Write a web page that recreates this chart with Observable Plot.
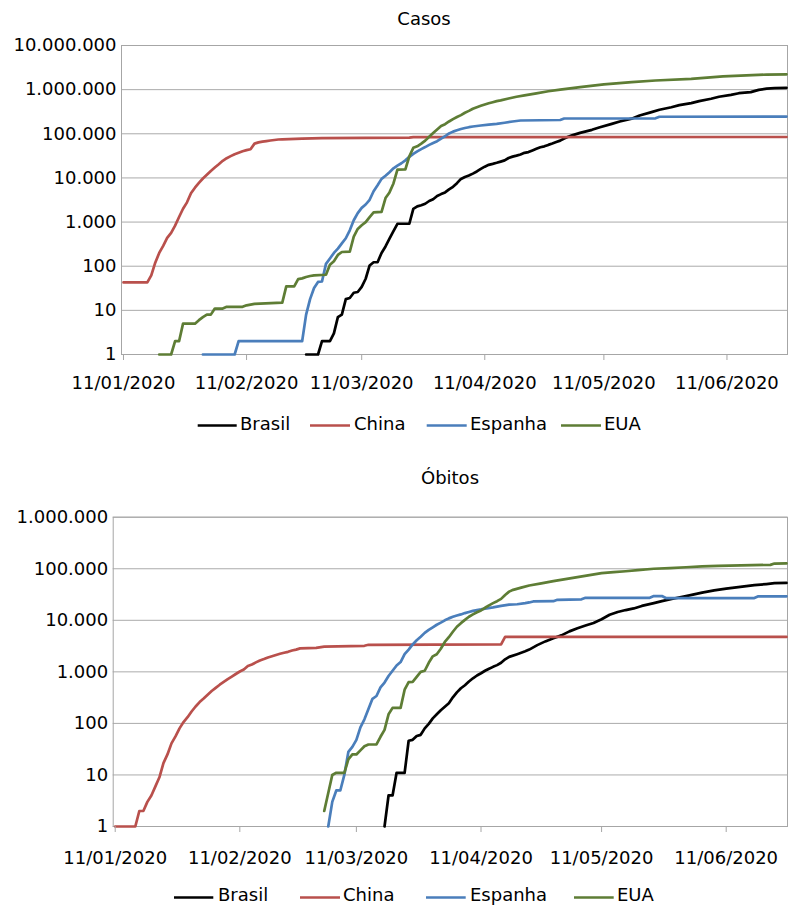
<!DOCTYPE html>
<html><head><meta charset="utf-8">
<script src="https://cdn.jsdelivr.net/npm/d3@7"></script>
<script src="https://cdn.jsdelivr.net/npm/@observablehq/plot@0.6"></script>
<style>
body{margin:0;background:#fff;}
#root{position:relative;width:797px;height:907px;overflow:hidden;font-family:"DejaVu Sans",sans-serif;}
#root > svg{position:absolute;left:0;}
</style></head><body><div id="root"></div>
<script>
const series = ["Brasil","China","Espanha","EUA"];
const colors = ["#000000","#b9504c","#4a7ebb","#5e7d35"];
const titles = ["Casos","Óbitos"];
const yTicksCasos = [1,10,100,1000,10000,100000,1000000,10000000];
const yTicksObitos = [1,10,100,1000,10000,100000,1000000];
const xTicks = ["2020-01-11","2020-02-11","2020-03-11","2020-04-11","2020-05-11","2020-06-11"];

const casosBrasil = [["2020-02-26",1],["2020-02-29",1],["2020-03-01",2],["2020-03-03",2],["2020-03-04",3],["2020-03-05",7],["2020-03-06",8],["2020-03-07",18],["2020-03-08",19],["2020-03-09",25],["2020-03-10",26],["2020-03-11",34],["2020-03-12",52],["2020-03-13",104],["2020-03-14",123],["2020-03-15",123],["2020-03-16",200],["2020-03-17",280],["2020-03-18",420],["2020-03-19",620],["2020-03-20",915],["2020-03-23",915],["2020-03-24",2000],["2020-03-25",2270],["2020-03-26",2400],["2020-03-27",2600],["2020-03-28",3000],["2020-03-29",3300],["2020-03-30",3900],["2020-03-31",4300],["2020-04-01",4700],["2020-04-02",5500],["2020-04-03",6300],["2020-04-04",7600],["2020-04-05",9500],["2020-04-06",10500],["2020-04-07",11300],["2020-04-08",12500],["2020-04-09",14000],["2020-04-10",16000],["2020-04-11",18000],["2020-04-12",19800],["2020-04-13",20800],["2020-04-14",22000],["2020-04-15",23400],["2020-04-16",25000],["2020-04-17",28300],["2020-04-18",30400],["2020-04-19",32000],["2020-04-20",34000],["2020-04-21",37000],["2020-04-22",38500],["2020-04-23",42000],["2020-04-24",45700],["2020-04-25",49500],["2020-04-26",52000],["2020-04-27",56000],["2020-04-28",60000],["2020-04-29",65000],["2020-04-30",70000],["2020-05-01",78000],["2020-05-02",86000],["2020-05-03",92000],["2020-05-05",105000],["2020-05-08",123000],["2020-05-10",140000],["2020-05-13",168000],["2020-05-15",190000],["2020-05-18",220000],["2020-05-20",260000],["2020-05-23",310000],["2020-05-25",350000],["2020-05-28",400000],["2020-05-30",445000],["2020-06-02",494000],["2020-06-04",550000],["2020-06-07",621000],["2020-06-09",690000],["2020-06-12",764000],["2020-06-14",830000],["2020-06-17",877000],["2020-06-19",990000],["2020-06-21",1050000],["2020-06-23",1080000],["2020-06-26",1100000]];
const casosChina = [["2020-01-11",43],["2020-01-17",43],["2020-01-18",62],["2020-01-19",120],["2020-01-20",200],["2020-01-21",290],["2020-01-22",440],["2020-01-23",570],["2020-01-24",830],["2020-01-25",1300],["2020-01-26",2000],["2020-01-27",2800],["2020-01-28",4500],["2020-01-29",6000],["2020-01-30",7700],["2020-01-31",9700],["2020-02-01",11800],["2020-02-02",14400],["2020-02-03",17200],["2020-02-04",20400],["2020-02-05",24400],["2020-02-06",28000],["2020-02-07",31200],["2020-02-08",34500],["2020-02-09",37200],["2020-02-10",40200],["2020-02-11",42700],["2020-02-12",44600],["2020-02-13",59800],["2020-02-14",63800],["2020-02-15",66500],["2020-02-16",68500],["2020-02-17",70500],["2020-02-18",72400],["2020-02-19",74200],["2020-02-20",75000],["2020-02-25",77700],["2020-03-01",79800],["2020-03-23",81500],["2020-03-24",84000],["2020-06-26",84500]];
const casosEspanha = [["2020-01-31",1],["2020-02-08",1],["2020-02-09",2],["2020-02-25",2],["2020-02-26",8],["2020-02-27",18],["2020-02-28",32],["2020-02-29",44],["2020-03-01",45],["2020-03-02",113],["2020-03-03",150],["2020-03-04",200],["2020-03-05",250],["2020-03-06",330],["2020-03-07",430],["2020-03-08",650],["2020-03-09",1100],["2020-03-10",1600],["2020-03-11",2100],["2020-03-12",2500],["2020-03-13",3200],["2020-03-14",5000],["2020-03-15",6800],["2020-03-16",9500],["2020-03-17",11200],["2020-03-18",13500],["2020-03-19",16500],["2020-03-20",19000],["2020-03-21",21500],["2020-03-22",25000],["2020-03-23",30000],["2020-03-24",35000],["2020-03-25",40000],["2020-03-26",45000],["2020-03-27",50000],["2020-03-28",56000],["2020-03-29",62000],["2020-03-30",68000],["2020-03-31",78000],["2020-04-01",88000],["2020-04-02",102000],["2020-04-03",112000],["2020-04-04",120000],["2020-04-05",128000],["2020-04-06",135000],["2020-04-07",141000],["2020-04-08",146000],["2020-04-09",150000],["2020-04-10",154000],["2020-04-12",162000],["2020-04-14",168000],["2020-04-16",178000],["2020-04-18",190000],["2020-04-20",200000],["2020-04-30",205000],["2020-05-01",222000],["2020-05-24",224000],["2020-05-25",243000],["2020-06-26",245000]];
const casosEUA = [["2020-01-20",1],["2020-01-23",1],["2020-01-24",2],["2020-01-25",2],["2020-01-26",5],["2020-01-29",5],["2020-01-30",6],["2020-01-31",7],["2020-02-01",8],["2020-02-02",8],["2020-02-03",11],["2020-02-05",11],["2020-02-06",12],["2020-02-10",12],["2020-02-11",13],["2020-02-13",14],["2020-02-20",15],["2020-02-21",35],["2020-02-23",35],["2020-02-24",51],["2020-02-25",53],["2020-02-26",57],["2020-02-27",60],["2020-02-28",62],["2020-03-02",64],["2020-03-03",108],["2020-03-04",130],["2020-03-05",180],["2020-03-06",210],["2020-03-08",213],["2020-03-09",470],["2020-03-10",700],["2020-03-11",850],["2020-03-12",1000],["2020-03-13",1300],["2020-03-14",1650],["2020-03-16",1700],["2020-03-17",3500],["2020-03-18",4700],["2020-03-19",7500],["2020-03-20",15500],["2020-03-22",15600],["2020-03-23",31000],["2020-03-24",48000],["2020-03-25",52000],["2020-03-26",60000],["2020-03-27",70000],["2020-03-28",86000],["2020-03-29",104000],["2020-03-30",125000],["2020-03-31",150000],["2020-04-01",165000],["2020-04-02",190000],["2020-04-03",215000],["2020-04-04",240000],["2020-04-05",265000],["2020-04-06",300000],["2020-04-07",330000],["2020-04-08",370000],["2020-04-09",400000],["2020-04-10",430000],["2020-04-11",460000],["2020-04-12",490000],["2020-04-13",520000],["2020-04-14",550000],["2020-04-15",570000],["2020-04-17",630000],["2020-04-19",690000],["2020-04-21",740000],["2020-04-24",820000],["2020-04-27",920000],["2020-04-30",1000000],["2020-05-05",1140000],["2020-05-11",1310000],["2020-05-18",1480000],["2020-05-24",1610000],["2020-06-02",1760000],["2020-06-10",1990000],["2020-06-21",2200000],["2020-06-26",2220000]];

const obitosBrasil = [["2020-03-18",1],["2020-03-19",4],["2020-03-20",4],["2020-03-21",11],["2020-03-23",11],["2020-03-24",46],["2020-03-25",48],["2020-03-26",57],["2020-03-27",60],["2020-03-28",80],["2020-03-29",98],["2020-03-30",125],["2020-03-31",150],["2020-04-01",180],["2020-04-02",210],["2020-04-03",245],["2020-04-04",320],["2020-04-05",400],["2020-04-06",480],["2020-04-07",550],["2020-04-08",650],["2020-04-09",750],["2020-04-10",850],["2020-04-11",940],["2020-04-12",1050],["2020-04-13",1150],["2020-04-14",1250],["2020-04-15",1350],["2020-04-16",1500],["2020-04-17",1750],["2020-04-18",1950],["2020-04-20",2200],["2020-04-22",2500],["2020-04-23",2700],["2020-04-25",3300],["2020-04-27",3900],["2020-04-29",4500],["2020-05-01",5100],["2020-05-03",6100],["2020-05-05",7000],["2020-05-07",7900],["2020-05-09",8900],["2020-05-11",10500],["2020-05-13",12800],["2020-05-15",14500],["2020-05-17",15800],["2020-05-19",17000],["2020-05-21",19000],["2020-05-24",21500],["2020-05-26",23500],["2020-05-29",26500],["2020-06-01",29500],["2020-06-03",31800],["2020-06-05",34500],["2020-06-08",38000],["2020-06-11",41000],["2020-06-13",43000],["2020-06-16",46000],["2020-06-18",48000],["2020-06-21",50500],["2020-06-23",52500],["2020-06-26",53000]];
const obitosChina = [["2020-01-11",1],["2020-01-16",1],["2020-01-17",2],["2020-01-18",2],["2020-01-19",3],["2020-01-20",4],["2020-01-21",6],["2020-01-22",9],["2020-01-23",17],["2020-01-24",25],["2020-01-25",41],["2020-01-26",56],["2020-01-27",80],["2020-01-28",106],["2020-01-29",132],["2020-01-30",170],["2020-01-31",213],["2020-02-01",259],["2020-02-02",304],["2020-02-03",361],["2020-02-04",425],["2020-02-05",490],["2020-02-06",563],["2020-02-07",636],["2020-02-08",722],["2020-02-09",811],["2020-02-10",908],["2020-02-11",1016],["2020-02-12",1113],["2020-02-13",1300],["2020-02-14",1390],["2020-02-15",1524],["2020-02-16",1666],["2020-02-17",1772],["2020-02-18",1900],["2020-02-19",2006],["2020-02-20",2121],["2020-02-21",2239],["2020-02-22",2348],["2020-02-23",2445],["2020-02-24",2595],["2020-02-25",2700],["2020-02-26",2850],["2020-03-01",2920],["2020-03-03",3080],["2020-03-13",3200],["2020-03-14",3350],["2020-04-16",3400],["2020-04-17",4750],["2020-06-26",4750]];
const obitosEspanha = [["2020-03-04",1],["2020-03-05",3],["2020-03-06",5],["2020-03-07",5],["2020-03-08",10],["2020-03-09",28],["2020-03-10",35],["2020-03-11",48],["2020-03-12",84],["2020-03-13",120],["2020-03-14",190],["2020-03-15",300],["2020-03-16",340],["2020-03-17",500],["2020-03-18",620],["2020-03-19",830],["2020-03-20",1050],["2020-03-21",1330],["2020-03-22",1550],["2020-03-23",2200],["2020-03-24",2700],["2020-03-25",3400],["2020-03-26",4100],["2020-03-27",4800],["2020-03-28",5700],["2020-03-29",6500],["2020-03-30",7300],["2020-03-31",8200],["2020-04-01",9000],["2020-04-02",10000],["2020-04-03",10900],["2020-04-04",11700],["2020-04-05",12400],["2020-04-06",13000],["2020-04-07",13800],["2020-04-08",14500],["2020-04-09",15200],["2020-04-10",15800],["2020-04-11",16300],["2020-04-12",16900],["2020-04-14",17800],["2020-04-16",19000],["2020-04-18",20100],["2020-04-20",20500],["2020-04-22",21500],["2020-04-23",22200],["2020-04-24",23200],["2020-04-29",23500],["2020-04-30",25000],["2020-05-06",25500],["2020-05-07",27300],["2020-05-23",27300],["2020-05-24",29500],["2020-05-26",29500],["2020-05-27",27000],["2020-06-18",27000],["2020-06-19",29200],["2020-06-26",29200]];
const obitosEUA = [["2020-03-03",2],["2020-03-05",10],["2020-03-06",11],["2020-03-08",11],["2020-03-09",20],["2020-03-10",25],["2020-03-11",25],["2020-03-12",30],["2020-03-13",36],["2020-03-14",39],["2020-03-16",39],["2020-03-17",55],["2020-03-18",75],["2020-03-19",150],["2020-03-20",200],["2020-03-22",200],["2020-03-23",450],["2020-03-24",630],["2020-03-25",640],["2020-03-26",800],["2020-03-27",1000],["2020-03-28",1050],["2020-03-29",1500],["2020-03-30",2000],["2020-03-31",2200],["2020-04-01",2800],["2020-04-02",3800],["2020-04-03",4700],["2020-04-04",6000],["2020-04-05",7500],["2020-04-06",8800],["2020-04-07",10200],["2020-04-08",11700],["2020-04-09",13000],["2020-04-10",14300],["2020-04-11",15500],["2020-04-12",17500],["2020-04-13",19500],["2020-04-14",21500],["2020-04-15",23500],["2020-04-16",26000],["2020-04-17",31000],["2020-04-18",36000],["2020-04-19",39000],["2020-04-21",43000],["2020-04-23",47400],["2020-04-26",52000],["2020-04-29",57500],["2020-05-02",63000],["2020-05-05",68700],["2020-05-08",75000],["2020-05-11",82000],["2020-05-14",86000],["2020-05-17",89500],["2020-05-20",94000],["2020-05-24",100000],["2020-05-28",103000],["2020-06-01",107000],["2020-06-05",111000],["2020-06-09",114000],["2020-06-22",119000],["2020-06-23",126000],["2020-06-26",127000]];

const ptBR = d3.formatLocale({decimal: ",", thousands: ".", grouping: [3], currency: ["R$ ", ""]});
const yFmt = ptBR.format(",d");
const xFmt = d3.utcFormat("%d/%m/%Y");
const toDate = s => new Date(s + "T00:00:00Z");
const xDomain = [new Date("2020-01-10T12:00:00Z"), new Date("2020-06-26T06:00:00Z")];

function rows(arrs) {
  return series.flatMap((s, i) => arrs[i].map(([d, v]) => ({series: s, date: toDate(d), value: v})));
}

function chart({data, yTicks, top, height, marginTop, marginBottom, marginLeft, tickPadding}) {
  const svg = Plot.plot({
    width: 797, height, marginTop, marginBottom, marginLeft, marginRight: 10,
    style: {fontFamily: '"DejaVu Sans", sans-serif', fontSize: "18px", color: "#000", background: "transparent", overflow: "visible"},
    x: {type: "utc", domain: xDomain},
    y: {type: "log", domain: [yTicks[0], yTicks[yTicks.length - 1]]},
    color: {domain: series, range: colors},
    marks: [
      Plot.gridY(yTicks, {stroke: "#ababab", strokeOpacity: 1, strokeWidth: 1}),
      Plot.frame({stroke: "#a6a6a6", strokeWidth: 1}),
      Plot.lineY(data, {x: "date", y: "value", z: "series", stroke: "series", strokeWidth: 2.7, strokeLinejoin: "round"}),
      Plot.axisX(xTicks.map(toDate), {tickSize: 6, tickPadding, stroke: "#a6a6a6", color: "#000", tickFormat: xFmt, label: null, fontSize: 18}),
      Plot.axisY(yTicks, {tickSize: 0, tickPadding: 5, tickFormat: yFmt, label: null, fontSize: 18, color: "#000"})
    ]
  });
  svg.style.top = top + "px";
  return svg;
}

const root = document.getElementById("root");
root.appendChild(chart({
  data: rows([casosBrasil, casosChina, casosEspanha, casosEUA]),
  yTicks: yTicksCasos, top: 0, height: 400, marginTop: 45, marginBottom: 46, marginLeft: 121, tickPadding: 15.5
}));
root.appendChild(chart({
  data: rows([obitosBrasil, obitosChina, obitosEspanha, obitosEUA]),
  yTicks: yTicksObitos, top: 460, height: 447, marginTop: 56.7, marginBottom: 81, marginLeft: 112.7, tickPadding: 18.8
}));

// titles and legends overlay
const overlay = d3.select(root).append("svg")
  .attr("width", 797).attr("height", 907)
  .style("top", "0px").style("pointer-events", "none")
  .attr("font-family", '"DejaVu Sans", sans-serif').attr("font-size", 18);

const titlePos = [{x: 424, y: 24.5}, {x: 450, y: 483.5}];
titles.forEach((t, i) => overlay.append("text").attr("x", titlePos[i].x).attr("y", titlePos[i].y)
  .attr("text-anchor", "middle").attr("fill", "#000").text(t));

const legendLayouts = [
  {lineY: 425.5, textY: 429.5, items: [[197.7, 236.7, 240], [310, 350, 354], [426.7, 466.7, 470], [561, 601, 604]]},
  {lineY: 897.5, textY: 900.5, items: [[174, 213.3, 218], [300, 340, 343], [426, 465.7, 470], [574, 613.7, 617]]}
];
legendLayouts.forEach(L => {
  series.forEach((s, i) => {
    const [x1, x2, tx] = L.items[i];
    overlay.append("line").attr("x1", x1).attr("x2", x2).attr("y1", L.lineY).attr("y2", L.lineY)
      .attr("stroke", colors[i]).attr("stroke-width", 2.7);
    overlay.append("text").attr("x", tx).attr("y", L.textY).attr("fill", "#000").text(s);
  });
});
</script></body></html>
